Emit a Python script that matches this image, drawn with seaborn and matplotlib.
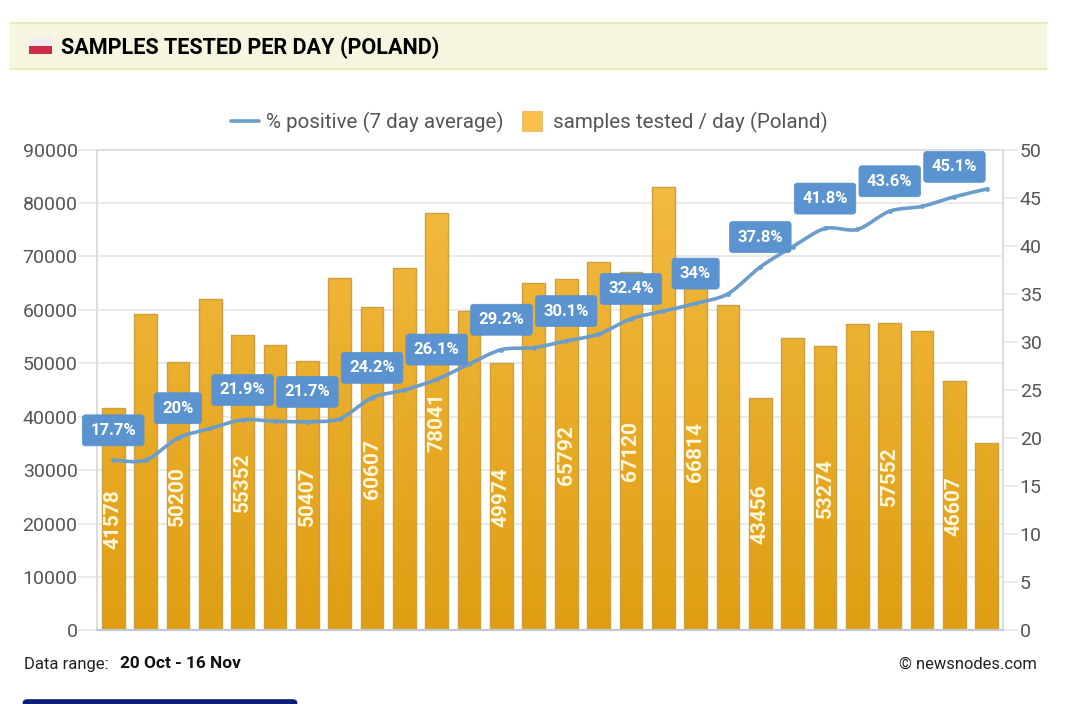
import numpy as np
import pandas as pd
import seaborn as sns
import matplotlib.pyplot as plt
from matplotlib.patches import Rectangle, FancyBboxPatch, PathPatch
from matplotlib.path import Path
from matplotlib.lines import Line2D
from matplotlib.colors import LinearSegmentedColormap

W, H = 1080, 704

# values
days = ['20 Oct', '21 Oct', '22 Oct', '23 Oct', '24 Oct', '25 Oct', '26 Oct', '27 Oct', '28 Oct', '29 Oct',
        '30 Oct', '31 Oct', '1 Nov', '2 Nov', '3 Nov', '4 Nov', '5 Nov', '6 Nov', '7 Nov', '8 Nov',
        '9 Nov', '10 Nov', '11 Nov', '12 Nov', '13 Nov', '14 Nov', '15 Nov', '16 Nov']
samples = [41578, 59200, 50200, 62000, 55352, 53500, 50407, 66000, 60607, 67800,
           78041, 59700, 49974, 65000, 65792, 69000, 67120, 83000, 66814, 61000,
           43456, 54700, 53274, 57300, 57552, 56000, 46607, 35000]
positive = [17.7, 17.7, 20.0, 21.0, 21.9, 21.75, 21.7, 22.0, 24.2, 25.0,
            26.1, 27.7, 29.2, 29.4, 30.1, 30.8, 32.4, 33.2, 34.0, 35.0,
            37.8, 39.9, 41.8, 41.7, 43.6, 44.1, 45.1, 45.9]
pct_labels = ['17.7%', '20%', '21.9%', '21.7%', '24.2%', '26.1%', '29.2%',
              '30.1%', '32.4%', '34%', '37.8%', '41.8%', '43.6%', '45.1%']
left_ticks = [0, 10000, 20000, 30000, 40000, 50000, 60000, 70000, 80000, 90000]
right_ticks = [0, 5, 10, 15, 20, 25, 30, 35, 40, 45, 50]

BLUE = '#6A9DCB'
BOX = '#5B93D0'
GRID = '#e8e8e8'
TEXT = '#555555'


def fx(x):
    return x / W


def fy(y):
    return 1 - y / H


def smooth_path(xy, tension=0.15):
    # rounded line through the drawn points, same look as the original chart
    verts = [xy[0]]
    for i in range(len(xy) - 1):
        before = xy[max(i - 1, 0)]
        after = xy[min(i + 2, len(xy) - 1)]
        verts.append(xy[i] + (xy[i + 1] - before) * tension)
        verts.append(xy[i + 1] - (after - xy[i]) * tension)
        verts.append(xy[i + 1])
    codes = [Path.MOVETO] + [Path.CURVE4] * (len(verts) - 1)
    return Path(np.array(verts), codes)


sns.set_theme(style='white')
plt.rcParams['font.family'] = ['Roboto', 'DejaVu Sans']

df = pd.DataFrame({'day': days, 'samples': samples, 'positive': positive})

fig = plt.figure(figsize=(W / 100, H / 100), dpi=100, facecolor='white')
ax = fig.add_axes([fx(97), fy(630.4), (1003 - 97) / W, (630.4 - 149.6) / H])

sns.barplot(data=df, x='day', y='samples', ax=ax, width=0.7, fill=True, color='#F0B030', saturation=1)

# header band and flag
fig.add_artist(Rectangle((fx(10), fy(69)), 1037 / W, 46 / H, transform=fig.transFigure, fc='#F6F6E0', ec='none'))
fig.add_artist(Line2D([fx(10), fx(1047)], [fy(23), fy(23)], color='#E6E6B0', lw=1.2))
fig.add_artist(Line2D([fx(10), fx(1047)], [fy(69), fy(69)], color='#E6E6B0', lw=1.2))
fig.add_artist(Rectangle((fx(29), fy(46)), 23 / W, 9 / H, transform=fig.transFigure, fc='#F0EEEE', ec='none'))
fig.add_artist(Rectangle((fx(29), fy(54)), 23 / W, 8 / H, transform=fig.transFigure, fc='#CC2B4A', ec='none'))
fig.text(fx(61), fy(47.5), 'SAMPLES TESTED PER DAY (POLAND)', fontsize=15.6, fontweight='bold',
         color='black', va='center', ha='left')

# gradient fill for the bars
grad = LinearSegmentedColormap.from_list('bar', ['#DF9E12', '#F5BC45'])
bars = ax.containers[0]
for patch in bars:
    x0 = patch.get_x()
    img = ax.imshow(np.linspace(1, 0, 256).reshape(-1, 1), cmap=grad, aspect='auto', vmin=0, vmax=1,
                    extent=[x0, x0 + patch.get_width(), 0, 90000], zorder=2)
    img.set_clip_path(patch)
    patch.set_facecolor('none')
    patch.set_edgecolor('#CBA040')
    patch.set_linewidth(1)
    patch.set_zorder(3)

bar_text = [str(v) if i % 2 == 0 else '' for i, v in enumerate(samples)]
ax.bar_label(bars, labels=bar_text, label_type='center', rotation=90, color='#FFF6DC',
             fontsize=15, fontweight='bold', zorder=4)

ax.set_xlim(-0.5, 27.5)
ax.set_ylim(0, 90000)
ax.set_yticks(left_ticks)
ax.set_xticks([])
ax.set_xlabel('')
ax.set_ylabel('')
ax.yaxis.grid(True, color=GRID, lw=1.3)
ax.set_axisbelow(True)
ax.tick_params(axis='y', left=True, length=14, width=1.2, color=GRID, labelcolor=TEXT, labelsize=14, pad=0)

# line on the second axis
ax2 = ax.twinx()
sns.lineplot(data=df, x='day', y='positive', ax=ax2, color=BLUE, lw=2.6, marker='o', markersize=3.5,
             markeredgewidth=0, sort=False, zorder=5)
line = ax2.lines[0]
ax2.add_patch(PathPatch(smooth_path(line.get_xydata()), fc='none', ec=BLUE, lw=2.6, zorder=5))
line.set_linestyle('none')

ax2.set_xlim(-0.5, 27.5)
ax2.set_ylim(0, 50)
ax2.set_yticks(right_ticks)
ax2.set_ylabel('')
ax2.grid(False)
ax2.tick_params(axis='y', right=True, length=11, width=1.2, color=GRID, labelcolor=TEXT, labelsize=14, pad=1)

for a in (ax, ax2):
    for side in ['left', 'right', 'top']:
        a.spines[side].set_color('#dddddd')
        a.spines[side].set_linewidth(1.2)
    a.spines['bottom'].set_color('#C2C8D4')
    a.spines['bottom'].set_linewidth(1.5)

# every second day carries a label
for n, text in enumerate(pct_labels):
    i = n * 2
    ax2.annotate(text, (i, positive[i]), xytext=(0, 21.5), textcoords='offset points', ha='center', va='center',
                 color='white', fontsize=12, fontweight='bold', zorder=10,
                 bbox=dict(boxstyle='round,pad=0.48,rounding_size=0.2', fc=BOX, ec=BOX, lw=0.5))

handles = [Line2D([0], [0], color=BLUE, lw=2.6),
           Line2D([0], [0], linestyle='none', marker='s', markersize=14, markerfacecolor='#F8BF4C',
                  markeredgecolor='#E8C070', markeredgewidth=0.8)]
fig.legend(handles, ['% positive (7 day average)', 'samples tested / day (Poland)'], ncols=2,
           loc='center', bbox_to_anchor=(fx(529), fy(122)), frameon=False, fontsize=14.8,
           labelcolor=TEXT, handlelength=1.4, columnspacing=0.7, handletextpad=0.3)

# footer
fig.text(fx(24), fy(664), 'Data range:', fontsize=12, color='#222222', va='center')
fig.text(fx(120), fy(664), '20 Oct - 16 Nov', fontsize=12.4, fontweight='bold', color='#111111', va='center')
fig.text(fx(1037), fy(664), '© newsnodes.com', fontsize=11.9, color='#222222', va='center', ha='right')
fig.add_artist(FancyBboxPatch((fx(27), fy(712)), 266 / W, 10 / H, transform=fig.transFigure, mutation_scale=1,
                              boxstyle='round,pad=0.004,rounding_size=0.005', fc='#0B1F78', ec='none'))

fig.savefig('out.png', dpi=100)
